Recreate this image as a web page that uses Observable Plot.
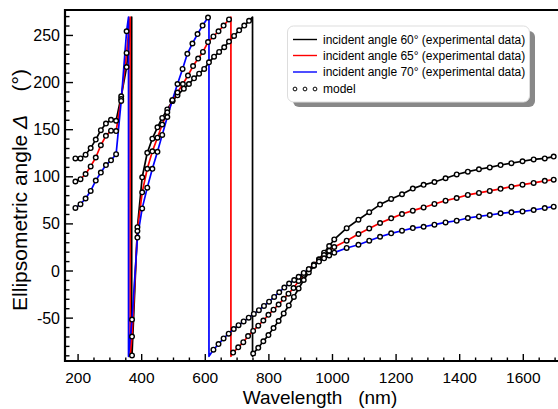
<!DOCTYPE html>
<html><head><meta charset="utf-8">
<script src="https://cdn.jsdelivr.net/npm/d3@7"></script>
<script src="https://cdn.jsdelivr.net/npm/@observablehq/plot@0.6"></script>
<style>body{margin:0;background:#fff;}</style>
</head><body><div id="chart"></div>
<script>
// Wavelength (nm) and ellipsometric angle Delta (deg) — model points
const lam60 = [190,206,222,238,254,270,286,302,318,334,351,368,385,400,416,432,448,463,479,495,511,531,547,563,579,595,610,626,642,658,673,689,705,721,736,749,765,781,797,813,829,845,861,877,892,908,924,940,956,972,988,1004,1043,1080,1114,1148,1183,1217,1251,1285,1319,1354,1389,1424,1459,1493,1527,1561,1596,1631,1666,1694];
const delta60 = [120,120,124,131,140,150,157,161,160,186,217,-89,47,100,126,141,153,163,172,181,187,194,199,205,210,215,222,228,233,238,244,250,256,261,266,-87,-81,-74,-67.5,-60,-52.5,-44.5,-36,-27,-18,-9,-1,6,13,20,27,34,46,55,63,71,77,82,88,92,95,99,103,106,108.5,110.5,113,115,117,119,120,122];
const lam65 = [190,206,222,238,254,270,286,302,318,334,351,368,385,400,416,432,448,463,479,495,511,528,544,560,576,591,607,624,640,656,673,686,702,718,733,749,765,781,797,813,829,845,860,876,892,908,924,940,956,972,988,1004,1043,1080,1114,1148,1183,1217,1251,1285,1319,1354,1389,1424,1459,1493,1527,1561,1596,1631,1666,1694];
const delta65 = [95.5,98,103.5,111.5,121,134,144,149.5,149,183,232,-69,43,84,109,127.5,142,156,169,181,190,199,208,218,226,233,243.5,249.5,255,261,267.5,-86,-80.5,-75,-68.5,-63,-57.5,-52,-46,-40.5,-35,-29,-23.5,-17.5,-10,-3.5,2.5,7.5,12.5,17.5,22,26,32.7,39.8,45.7,51.5,56.4,61,64.6,68,71.7,75.2,78,81.3,83.4,85.5,87.7,90,92.2,94,96.2,97.5];
const lam70 = [190,206,222,238,254,270,286,302,318,334,351,368,385,400,416,432,448,463,479,495,511,527,542,558,574,590,607,624,640,656,672,688,703,719,735,751,767,783,799,815,831,847,862,878,892,908,924,940,956,972,988,1004,1043,1080,1114,1148,1183,1217,1251,1285,1319,1354,1389,1424,1459,1493,1527,1561,1596,1631,1666,1694];
const delta70 = [67.5,71.5,77.5,85.5,96.5,105,113,118,124.5,181,255,-51,36,67,89,109,127,145,164,182,199,215,231,242,252,261,269.5,-83,-77,-71,-66,-61,-57,-53,-49,-45,-41,-36.5,-32,-27,-22,-17,-12.7,-9,-5.6,-1.5,2.5,6.5,10.5,14,17,20,25,28.4,32.7,36.9,40.5,43.3,46.1,47.5,49.7,52.1,53.9,56.8,58.5,60,61.7,62.8,63.8,65.3,67.4,68.8];
// wavelengths where Delta wraps from +270 to -90
const wrapLam60 = [367, 747];
const wrapLam65 = [362, 679];
const wrapLam70 = [357, 610];
const WRAP_TOP = 270, WRAP_BOTTOM = -90;

const seriesColors = ["#000000", "#ff0000", "#0000ff"];
const legendLabels = ["incident angle 60\u00b0 (experimental data)", "incident angle 65\u00b0 (experimental data)", "incident angle 70\u00b0 (experimental data)", "model"];
const xTicks = [200,400,600,800,1000,1200,1400,1600];
const yTicks = [-50,0,50,100,150,200,250];

function build(lam, del, wraps) {
  const pts = lam.map((l, i) => ({lam: l, d: del[i]}));
  const line = [];
  let wi = 0;
  for (const p of pts) {
    while (wi < wraps.length && wraps[wi] < p.lam) {
      line.push({lam: wraps[wi], d: WRAP_TOP});
      line.push({lam: wraps[wi], d: WRAP_BOTTOM});
      wi++;
    }
    line.push(p);
  }
  return {pts, line};
}
const S = [build(lam60, delta60, wrapLam60), build(lam65, delta65, wrapLam65), build(lam70, delta70, wrapLam70)];

const W = 558, H = 409, mL = 66, mR = 1, mT = 10, mB = 48;
const FONT = "Liberation Sans, Arial, sans-serif";
const chart = Plot.plot({
  width: W, height: H,
  marginLeft: mL, marginRight: mR, marginTop: mT, marginBottom: mB,
  style: {background: "#fff", fontFamily: FONT},
  x: {domain: [162, 1706], axis: null},
  y: {domain: [-95.5, 277], axis: null},
  marks: [
    ...S.map((s, i) => Plot.line(s.line, {x: "lam", y: "d", stroke: seriesColors[i], strokeWidth: 1.7})),
    ...S.map(s => Plot.dot(s.pts, {x: "lam", y: "d", r: 2.3, stroke: "#000", strokeWidth: 1.4, fill: "#fff"}))
  ]
});

const xs = chart.scale("x"), ys = chart.scale("y");
const X = v => xs.apply(v), Y = v => ys.apply(v);
const svg = d3.select(chart);
const g = svg.append("g").attr("font-family", FONT).attr("text-anchor", "start");
const yB = H - mB, xL = mL;
// frame lines
g.append("line").attr("x1", xL - 2).attr("x2", W).attr("y1", mT).attr("y2", mT).attr("stroke", "#000").attr("stroke-width", 2.2);
g.append("line").attr("x1", xL - 2).attr("x2", W).attr("y1", yB).attr("y2", yB).attr("stroke", "#000").attr("stroke-width", 2.2);
g.append("line").attr("x1", xL - 1).attr("x2", xL - 1).attr("y1", mT - 1).attr("y2", yB + 1).attr("stroke", "#000").attr("stroke-width", 2.2);
// x ticks
d3.range(200, 1701, 50).forEach(v => {
  const major = v % 200 === 0;
  g.append("line").attr("x1", X(v)).attr("x2", X(v)).attr("y1", yB).attr("y2", yB - (major ? 7 : 3.5)).attr("stroke", "#000").attr("stroke-width", 1.4);
});
xTicks.forEach(v => {
  g.append("text").attr("x", X(v)).attr("y", yB + 22).attr("text-anchor", "middle").attr("font-size", 15.5).text(v);
});
// y ticks
d3.range(-90, 271, 10).forEach(v => {
  const major = v % 50 === 0;
  g.append("line").attr("x1", xL).attr("x2", xL + (major ? 7 : 3.5)).attr("y1", Y(v)).attr("y2", Y(v)).attr("stroke", "#000").attr("stroke-width", 1.4);
});
yTicks.forEach(v => {
  g.append("text").attr("x", xL - 6).attr("y", Y(v)).attr("dy", "0.35em").attr("text-anchor", "end").attr("font-size", 16).text(v);
});
// axis titles
g.append("text").attr("x", 320).attr("y", 404).attr("text-anchor", "middle").attr("font-size", 19)
  .style("white-space", "pre").text("Wavelength   (nm)");
const yt = g.append("text").attr("transform", "translate(27,190) rotate(-90)").attr("text-anchor", "middle").attr("font-size", 21).style("white-space", "pre");
yt.append("tspan").text("Ellipsometric angle ");
yt.append("tspan").attr("font-style", "italic").text("\u0394");
yt.append("tspan").text("    (\u00b0)");
// legend
const lg = g.append("g");
lg.append("rect").attr("x", 293).attr("y", 31).attr("width", 242).attr("height", 76).attr("rx", 6).attr("fill", "#888");
lg.append("rect").attr("x", 287.5).attr("y", 26).attr("width", 242).attr("height", 76).attr("rx", 6).attr("fill", "#fff").attr("stroke", "#ddd");
const rowsY = [39.5, 55.5, 72, 89];
seriesColors.forEach((c, i) => {
  lg.append("line").attr("x1", 293).attr("x2", 317).attr("y1", rowsY[i]).attr("y2", rowsY[i]).attr("stroke", c).attr("stroke-width", 1.4);
});
[295, 305, 315].forEach(cx => lg.append("circle").attr("cx", cx).attr("cy", rowsY[3]).attr("r", 1.9).attr("fill", "#fff").attr("stroke", "#000").attr("stroke-width", 1));
legendLabels.forEach((t, i) => {
  lg.append("text").attr("x", 323).attr("y", rowsY[i]).attr("dy", "0.35em").attr("text-anchor", "start").attr("font-size", 12).text(t);
});
document.getElementById("chart").appendChild(chart);
</script>
</body></html>
